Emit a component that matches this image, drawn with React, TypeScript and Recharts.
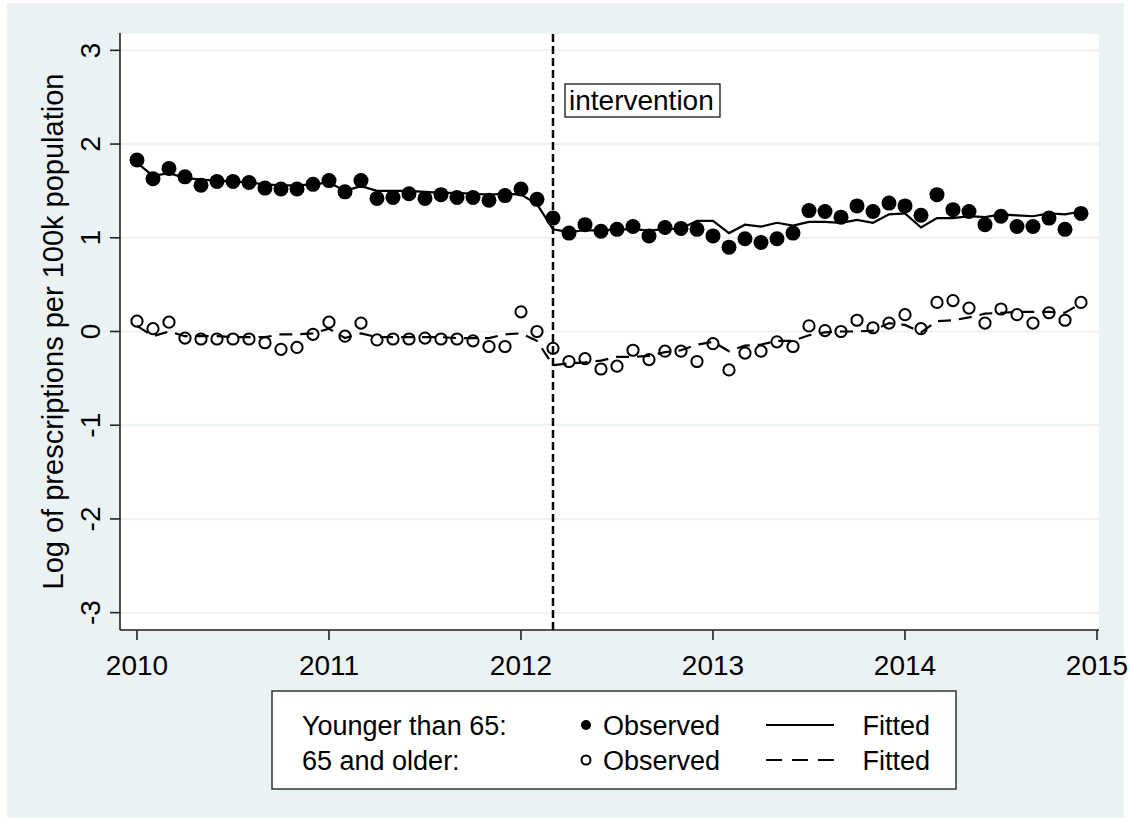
import { ComposedChart, CartesianGrid, XAxis, YAxis, Line, ReferenceLine } from 'recharts';

const FONT = '"Liberation Sans", Arial, Helvetica, sans-serif';

// monthly series, Jan 2010 .. Dec 2014
const youngObserved = [
  1.83, 1.63, 1.74, 1.65, 1.56, 1.60, 1.60, 1.59, 1.53, 1.52, 1.52, 1.57,
  1.61, 1.49, 1.61, 1.42, 1.43, 1.47, 1.42, 1.46, 1.43, 1.43, 1.40, 1.45,
  1.52, 1.41, 1.21, 1.05, 1.14, 1.07, 1.09, 1.12, 1.02, 1.11, 1.10, 1.09,
  1.02, 0.90, 0.99, 0.95, 0.99, 1.05, 1.29, 1.28, 1.22, 1.34, 1.28, 1.37,
  1.34, 1.24, 1.46, 1.30, 1.28, 1.14, 1.23, 1.12, 1.12, 1.21, 1.09, 1.26,
];
const youngFitted = [
  1.80, 1.66, 1.69, 1.64, 1.62, 1.61, 1.60, 1.59, 1.57, 1.56, 1.56, 1.57,
  1.59, 1.50, 1.55, 1.50, 1.50, 1.50, 1.49, 1.48, 1.48, 1.47, 1.46, 1.47,
  1.46, 1.36, 1.09, 1.06, 1.08, 1.08, 1.09, 1.09, 1.08, 1.09, 1.10, 1.18,
  1.18, 1.05, 1.14, 1.12, 1.16, 1.13, 1.17, 1.17, 1.16, 1.19, 1.16, 1.25,
  1.26, 1.11, 1.21, 1.21, 1.23, 1.22, 1.25, 1.24, 1.23, 1.26, 1.25, 1.28,
];
const olderObserved = [
  0.11, 0.03, 0.10, -0.07, -0.08, -0.08, -0.08, -0.08, -0.12, -0.19, -0.17, -0.03,
  0.10, -0.05, 0.09, -0.09, -0.08, -0.08, -0.07, -0.08, -0.08, -0.10, -0.16, -0.16,
  0.21, 0.00, -0.18, -0.32, -0.29, -0.40, -0.37, -0.20, -0.30, -0.21, -0.21, -0.32,
  -0.13, -0.41, -0.23, -0.21, -0.11, -0.16, 0.06, 0.01, 0.00, 0.12, 0.04, 0.09,
  0.18, 0.03, 0.31, 0.33, 0.25, 0.09, 0.24, 0.18, 0.09, 0.20, 0.12, 0.31,
];
const olderFitted = [
  0.06, -0.05, 0.00, -0.05, -0.05, -0.05, -0.06, -0.06, -0.06, -0.03, -0.03, -0.02,
  0.03, -0.07, -0.02, -0.06, -0.06, -0.06, -0.06, -0.06, -0.07, -0.07, -0.07, -0.03,
  -0.02, -0.10, -0.36, -0.34, -0.33, -0.31, -0.27, -0.27, -0.26, -0.22, -0.20, -0.14,
  -0.11, -0.21, -0.15, -0.14, -0.10, -0.10, -0.04, -0.01, 0.00, 0.00, 0.01, 0.09,
  0.07, -0.01, 0.11, 0.12, 0.15, 0.19, 0.20, 0.21, 0.21, 0.21, 0.20, 0.30,
];

const xTicks = [2010, 2011, 2012, 2013, 2014, 2015];
const yTicks = [-3, -2, -1, 0, 1, 2, 3];
const interventionAt = 2012 + 2 / 12;

const data = youngObserved.map((v, i) => ({
  t: 2010 + i / 12,
  youngObs: v,
  youngFit: youngFitted[i],
  oldObs: olderObserved[i],
  oldFit: olderFitted[i],
}));

const XTick = (props: any) => {
  const { x, y, payload } = props;
  return (
    <text x={x} y={y + 33} textAnchor="middle" fontSize={28} fontFamily={FONT} fill="#000">
      {payload.value}
    </text>
  );
};

const YTick = (props: any) => {
  const { y, payload } = props;
  return (
    <text x={90} y={y} dy="0.35em" textAnchor="middle" fontSize={28} fontFamily={FONT} fill="#000"
      transform={`rotate(-90, 90, ${y})`}>
      {payload.value}
    </text>
  );
};

const InterventionLabel = (props: any) => {
  const vb = props.viewBox || {};
  const bx = vb.x + 12;
  const by = vb.y + 51;
  return (
    <g>
      <rect x={bx} y={by} width={155} height={33} fill="#fff" stroke="#000" strokeWidth={1.2} />
      <text x={bx + 4} y={by + 26} fontSize={28} fontFamily={FONT} fill="#000">intervention</text>
    </g>
  );
};

export default function App() {
  return (
    <div style={{ position: 'absolute', left: 0, top: 0, width: 1130, height: 822, background: '#fff' }}>
      <div style={{ position: 'absolute', left: 7, top: 3, width: 1117, height: 815, background: '#eaf2f3' }} />
      <div style={{ position: 'absolute', left: 0, top: 0 }}>
        <ComposedChart width={1130} height={822} data={data}
          margin={{ top: 33, right: 31, bottom: 132, left: 0 }}>
          <CartesianGrid vertical={false} stroke="#eaf2f3" strokeWidth={2} fill="#fff" fillOpacity={1} />
          <XAxis dataKey="t" type="number" domain={[2009.9115, 2015.0104]} ticks={xTicks}
            allowDataOverflow height={60} tickSize={10} tick={<XTick />}
            axisLine={{ stroke: '#222', strokeWidth: 1.6 }} tickLine={{ stroke: '#222', strokeWidth: 1.6 }} />
          <YAxis type="number" domain={[-3.185, 3.185]} ticks={yTicks} allowDataOverflow width={120}
            tickSize={10} tick={<YTick />}
            axisLine={{ stroke: '#222', strokeWidth: 1.6 }} tickLine={{ stroke: '#222', strokeWidth: 1.6 }} />
          <ReferenceLine x={interventionAt} stroke="#000" strokeWidth={2.5} strokeDasharray="8 4"
            label={<InterventionLabel />} />
          <Line dataKey="youngFit" type="linear" stroke="#000" strokeWidth={2.2} dot={false}
            activeDot={false} isAnimationActive={false} />
          <Line dataKey="oldFit" type="linear" stroke="#000" strokeWidth={2.2} strokeDasharray="13 8"
            dot={false} activeDot={false} isAnimationActive={false} />
          <Line dataKey="youngObs" stroke="none" dot={{ r: 7.5, fill: '#000', stroke: 'none' }}
            activeDot={false} isAnimationActive={false} />
          <Line dataKey="oldObs" stroke="none" dot={{ r: 5.6, fill: 'none', stroke: '#000', strokeWidth: 2 }}
            activeDot={false} isAnimationActive={false} />
        </ComposedChart>
      </div>
      <svg width={1130} height={822} style={{ position: 'absolute', left: 0, top: 0, pointerEvents: 'none' }}>
        <text x={53} y={331.5} dy="0.35em" textAnchor="middle" fontSize={29} fontFamily={FONT} fill="#000"
          transform="rotate(-90, 53, 331.5)">
          Log of prescriptions per 100k population
        </text>
        <g fontFamily={FONT} fontSize={27} fill="#000">
          <rect x={272} y={691} width={684} height={98} fill="#fff" stroke="#333" strokeWidth={1.5} />
          <text x={302} y={734.5}>Younger than 65:</text>
          <text x={302} y={769.5}>65 and older:</text>
          <circle cx={586} cy={725} r={5} fill="#000" />
          <circle cx={586} cy={760} r={4.5} fill="none" stroke="#000" strokeWidth={2} />
          <text x={603} y={734.5}>Observed</text>
          <text x={603} y={769.5}>Observed</text>
          <line x1={766} y1={725} x2={834} y2={725} stroke="#000" strokeWidth={2.2} />
          <line x1={766} y1={760} x2={835} y2={760} stroke="#000" strokeWidth={2.2} strokeDasharray="16 10" />
          <text x={930} y={734.5} textAnchor="end">Fitted</text>
          <text x={930} y={769.5} textAnchor="end">Fitted</text>
        </g>
      </svg>
    </div>
  );
}
